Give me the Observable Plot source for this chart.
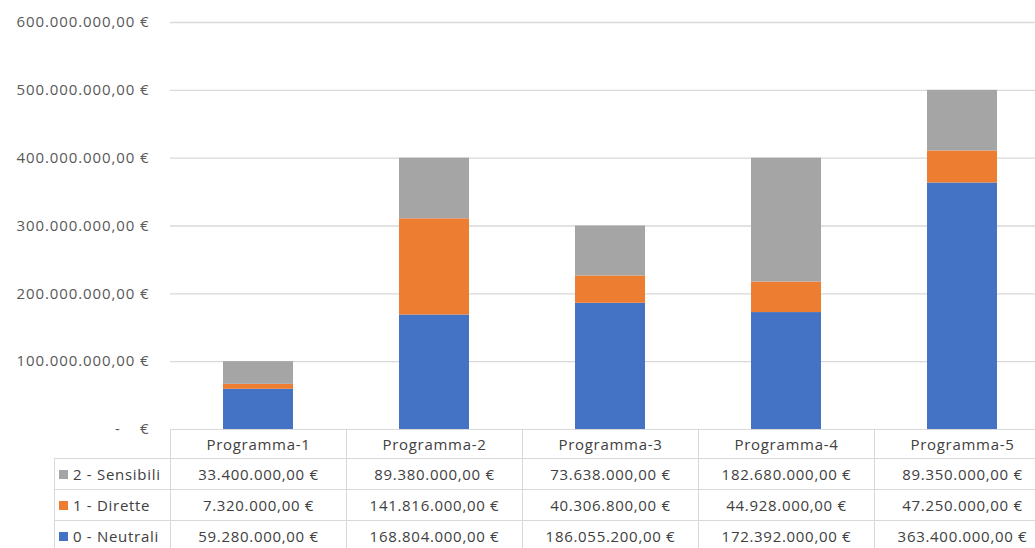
<!DOCTYPE html>
<html>
<head>
<meta charset="utf-8">
<script src="https://cdn.jsdelivr.net/npm/d3@7"></script>
<script src="https://cdn.jsdelivr.net/npm/@observablehq/plot@0.6"></script>
<style>
  html, body { margin: 0; padding: 0; background: #fff; }
  #wrap { position: relative; width: 1035px; height: 548px; overflow: hidden; font-family: "Open Sans", sans-serif; }
  #wrap svg text { letter-spacing: 0.9px; }
  .cell { position: absolute; box-sizing: border-box; border: 1px solid #d9d9d9; display: flex; align-items: center; justify-content: center;
          font-family: "Open Sans", sans-serif; font-size: 15px; letter-spacing: 0.7px; color: #404040; white-space: nowrap; }
  .lab { justify-content: flex-start; padding-left: 4px; }
  .sw { display: inline-block; width: 9px; height: 9px; margin-right: 5px; }
</style>
</head>
<body>
<div id="wrap"></div>
<script>
const categories = ["Programma-1", "Programma-2", "Programma-3", "Programma-4", "Programma-5"];
const seriesNames = ["0 - Neutrali", "1 - Dirette", "2 - Sensibili"];
const neutrali  = [59280000, 168804000, 186055200, 172392000, 363400000];
const dirette   = [7320000, 141816000, 40306800, 44928000, 47250000];
const sensibili = [33400000, 89380000, 73638000, 182680000, 89350000];
const seriesColors = ["#4472C4", "#ED7D31", "#A5A5A5"];
const yTicks = [0, 100000000, 200000000, 300000000, 400000000, 500000000, 600000000];

const seriesValues = [neutrali, dirette, sensibili];
const data = [];
categories.forEach((c, i) => {
  seriesNames.forEach((s, j) => data.push({category: c, series: s, value: seriesValues[j][i]}));
});

const loc = d3.formatLocale({decimal: ",", thousands: ".", grouping: [3], currency: ["", " €"]});
const num = loc.format(",.2f");
const euro = v => num(v) + "\u00a0€";
const tickFmt = v => v === 0 ? "-\u00a0\u00a0\u00a0\u00a0€" : euro(v);

const plot = Plot.plot({
  width: 1050,
  height: 430,
  marginLeft: 170,
  marginRight: 0,
  marginTop: 22,
  marginBottom: 1,
  style: {fontFamily: "Open Sans, sans-serif", fontSize: "15px", color: "#595959", background: "#fff", overflow: "visible", maxWidth: "none"},
  x: {domain: categories, paddingInner: 0.6, paddingOuter: 0.3, axis: null},
  y: {domain: [0, 600000000], axis: null},
  color: {domain: seriesNames, range: seriesColors},
  marks: [
    Plot.ruleY(yTicks.filter(d => d > 0), {stroke: "#d9d9d9", strokeWidth: 1.3}),
    Plot.barY(data, {x: "category", y: "value", fill: "series", order: seriesNames}),
    Plot.axisY({ticks: yTicks, tickFormat: tickFmt, tickSize: 0, tickPadding: 21, fill: "#595959", label: null})
  ]
});
const wrap = document.getElementById("wrap");
plot.style.position = "absolute";
plot.style.left = "0px";
plot.style.top = "0px";
plot.style.maxWidth = "none";
wrap.appendChild(plot);

// data table under the plot, aligned to the x band scale
const xs = plot.scale("x");
const step = xs.step;
const gap = (step - xs.bandwidth) / 2;
const colLeft = c => xs.apply(c) - gap;
const y0 = 429;
const rowTops = [y0, y0 + 29, y0 + 60, y0 + 91];
const rowH = [30, 32, 32, 32];
const labelLeft = 54;
const firstCol = colLeft(categories[0]);

function cell(left, top, w, h, html, cls) {
  const d = document.createElement("div");
  d.className = "cell" + (cls ? " " + cls : "");
  d.style.left = left + "px";
  d.style.top = top + "px";
  d.style.width = w + "px";
  d.style.height = h + "px";
  d.innerHTML = html;
  wrap.appendChild(d);
}
categories.forEach(c => cell(colLeft(c), rowTops[0], step + 1, rowH[0], c));
const tableRows = [
  {name: seriesNames[2], color: seriesColors[2], vals: sensibili},
  {name: seriesNames[1], color: seriesColors[1], vals: dirette},
  {name: seriesNames[0], color: seriesColors[0], vals: neutrali}
];
tableRows.forEach((r, k) => {
  const top = rowTops[k + 1];
  cell(labelLeft, top, firstCol - labelLeft + 1, rowH[k + 1],
       `<span class="sw" style="background:${r.color}"></span>${r.name}`, "lab");
  categories.forEach((c, i) => cell(colLeft(c), top, step + 1, rowH[k + 1], euro(r.vals[i])));
});
</script>
</body>
</html>
